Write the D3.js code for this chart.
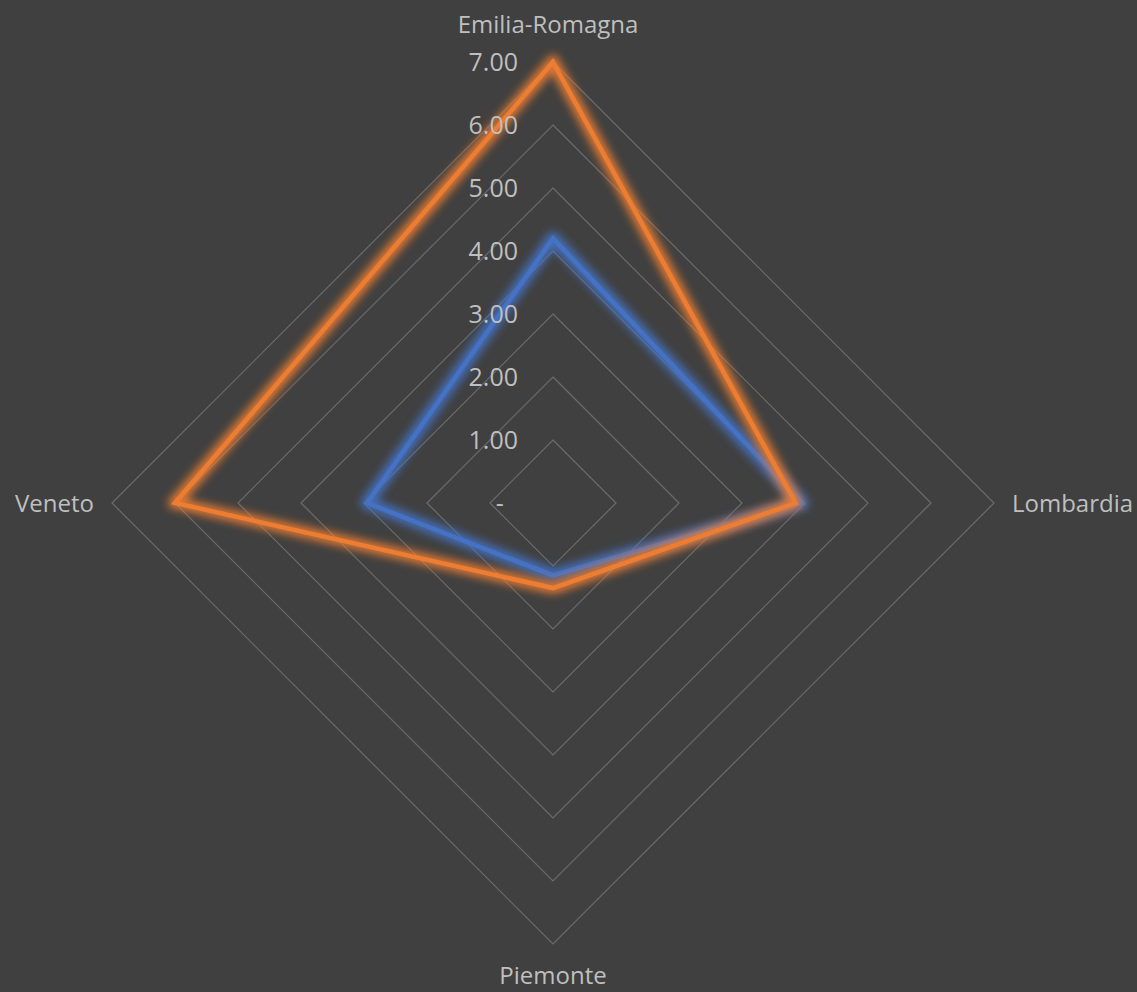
<!DOCTYPE html>
<html>
<head>
<meta charset="utf-8">
<script src="https://cdn.jsdelivr.net/npm/d3@7"></script>
<style>
  body { margin: 0; background: #404040; }
  svg { display: block; }
</style>
</head>
<body>
<svg id="chart" width="1137" height="992"></svg>
<script>
// radar data
var categories = ["Emilia-Romagna", "Lombardia", "Piemonte", "Veneto"];
var blueValues = [4.2, 3.95, 1.15, 2.95];
var orangeValues = [7.0, 3.85, 1.35, 6.0];
var tickValues = [0, 1, 2, 3, 4, 5, 6, 7];

var width = 1137,
    height = 992,
    cx = 553,
    cy = 503,
    maxR = 441;

var svg = d3.select("#chart");

svg.append("rect").attr("width", width).attr("height", height).attr("fill", "#404040");

// glow filters (soft coloured halo behind the line)
var defs = svg.append("defs");
var addGlow = function(id, color) {
  var f = defs.append("filter").attr("id", id)
    .attr("x", "-20%").attr("y", "-20%").attr("width", "140%").attr("height", "140%");
  f.append("feMorphology").attr("in", "SourceAlpha").attr("operator", "dilate").attr("radius", 2.5).attr("result", "fat");
  f.append("feGaussianBlur").attr("in", "fat").attr("stdDeviation", 4.5).attr("result", "blur");
  f.append("feFlood").attr("flood-color", color).attr("flood-opacity", 0.9);
  f.append("feComposite").attr("in2", "blur").attr("operator", "in").attr("result", "glow");
  var m = f.append("feMerge");
  m.append("feMergeNode").attr("in", "glow");
  m.append("feMergeNode").attr("in", "SourceGraphic");
};
addGlow("glowBlue", "#4472C4");
addGlow("glowOrange", "#ED7D31");

var r = d3.scaleLinear().domain([0, 7]).range([0, maxR]);

var angle = function(i) {
  return i * 2 * Math.PI / categories.length;
};

var g = svg.append("g").attr("transform", "translate(" + cx + "," + cy + ")");

var radar = d3.lineRadial()
  .angle(function(d, i) { return angle(i); })
  .radius(function(d) { return r(d); })
  .curve(d3.curveLinearClosed);

// grid rings (one diamond per tick)
g.selectAll(".ring")
  .data(tickValues.slice(1))
  .enter()
  .append("path")
  .attr("class", "ring")
  .attr("d", function(t) { return radar(categories.map(function() { return t; })); })
  .attr("fill", "none")
  .attr("stroke", "#6b6b6b")
  .attr("stroke-width", 1.2);

// series
var series = [
  { values: blueValues, color: "#4472C4", filter: "url(#glowBlue)" },
  { values: orangeValues, color: "#ED7D31", filter: "url(#glowOrange)" }
];

g.selectAll(".series")
  .data(series)
  .enter()
  .append("path")
  .attr("class", "series")
  .attr("d", function(d) { return radar(d.values); })
  .attr("fill", "none")
  .attr("stroke", function(d) { return d.color; })
  .attr("stroke-width", 4.5)
  .attr("stroke-linejoin", "miter")
  .attr("filter", function(d) { return d.filter; });

// tick labels on the top axis
var fmt = d3.format(".2f");
var tickFont = "25px 'Open Sans'";
var tickText = g.selectAll(".tick")
  .data(tickValues)
  .enter()
  .append("text")
  .attr("class", "tick")
  .attr("x", -35)
  .attr("y", function(t) { return -r(t); })
  .attr("dy", "0.35em")
  .attr("text-anchor", "end")
  .style("font", tickFont)
  .style("fill", "#bfbfbf")
  .text(function(t) { return t === 0 ? "-" : fmt(t); });

// zero shows as a dash, padded like accounting format
var pad = g.append("text").style("font", tickFont).text("0");
var padW = pad.node().getComputedTextLength();
pad.remove();
tickText.filter(function(t) { return t === 0; }).attr("x", -35 - padW);

// category labels (baselines)
var labelPos = [
  { x: -5, y: -maxR - 29, anchor: "middle" },
  { x: maxR + 18, y: 9, anchor: "start" },
  { x: 0, y: maxR + 40, anchor: "middle" },
  { x: -maxR - 18, y: 9, anchor: "end" }
];

g.selectAll(".cat")
  .data(categories)
  .enter()
  .append("text")
  .attr("class", "cat")
  .attr("x", function(d, i) { return labelPos[i].x; })
  .attr("y", function(d, i) { return labelPos[i].y; })
  .attr("text-anchor", function(d, i) { return labelPos[i].anchor; })
  .style("font", "24px 'Open Sans'")
  .style("fill", "#bfbfbf")
  .text(function(d) { return d; });
</script>
</body>
</html>
